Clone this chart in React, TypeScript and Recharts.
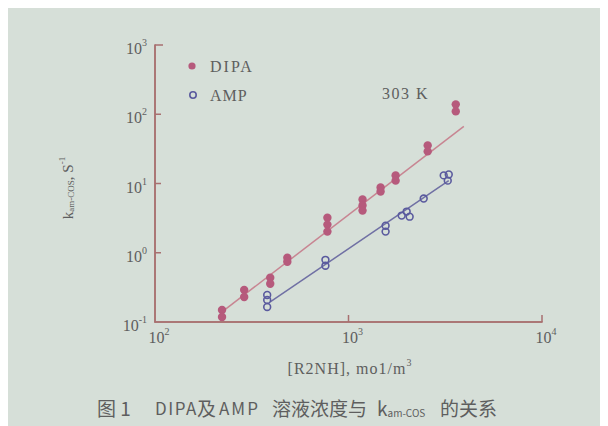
import React from "react";
import { ScatterChart, Scatter, XAxis, YAxis } from "recharts";

// [R2NH], mol/m3  vs  k_am-COS, s^-1   (303 K)
const dipaConc = [222, 222, 289, 289, 394, 394, 483, 483, 778, 778, 778, 1182, 1182, 1182, 1465, 1465, 1752, 1752, 2566, 2566, 3584, 3584];
const dipaK = [0.149, 0.118, 0.291, 0.23, 0.435, 0.356, 0.847, 0.741, 3.21, 2.55, 2.02, 5.86, 4.8, 4.06, 8.75, 7.66, 13.1, 11.0, 35.5, 29.1, 139, 110];

const ampConc = [380, 380, 380, 760, 760, 1555, 1555, 1883, 1998, 2070, 2447, 3105, 3297, 3258];
const ampK = [0.246, 0.208, 0.165, 0.79, 0.649, 2.46, 2.02, 3.44, 3.93, 3.32, 6.06, 13.1, 13.5, 11.0];

// fitted lines (end points)
const dipaFitConc = [222, 3945];
const dipaFitK = [0.14, 67];
const ampFitConc = [394, 3297];
const ampFitK = [0.195, 11.0];

const xTicks = [100, 1000, 10000];
const yTicks = [0.1, 1, 10, 100, 1000];
const tickExp: Record<number, string> = { 0.1: "-1", 1: "0", 10: "1", 100: "2", 1000: "3", 10000: "4" };

const W = 600;
const H = 418;
const M = { top: 37, right: 66, bottom: 74, left: 107 };
const Y_W = 40;
const X_H = 30;

const BG = "#d6dfd8";
const DIPA = "#b65a7c";
const DIPA_LINE = "#c88592";
const AMP = "#5a5a9e";
const AMP_LINE = "#7070a4";
const TEXT = "#5e5e5e";

const serif = "'Liberation Serif', 'DejaVu Serif', serif";
const cjk = "'Noto Sans CJK SC', 'Noto Sans', sans-serif";

const zip = (xs: number[], ys: number[]) => xs.map((x, i) => ({ x, y: ys[i] }));

const dipaData = zip(dipaConc, dipaK);
const ampData = zip(ampConc, ampK);
const dipaFit = zip(dipaFitConc, dipaFitK);
const ampFit = zip(ampFitConc, ampFitK);

// plot box (same as the chart's offset) for the frame
const PL = M.left + Y_W;
const PT = M.top;
const PR = W - M.right;
const PB = H - M.bottom - X_H;
const lx0 = Math.log10(xTicks[0]);
const lx1 = Math.log10(xTicks[xTicks.length - 1]);
const ly0 = Math.log10(yTicks[0]);
const ly1 = Math.log10(yTicks[yTicks.length - 1]);
const fx = (v: number) => PL + ((Math.log10(v) - lx0) / (lx1 - lx0)) * (PR - PL);
const fy = (v: number) => PB - ((Math.log10(v) - ly0) / (ly1 - ly0)) * (PB - PT);

function Pow10({ x, y, exp, anchor }: { x: number; y: number; exp: string; anchor: "end" | "middle" }) {
  return (
    <text x={x} y={y} textAnchor={anchor} fill={TEXT} fontFamily={serif} fontSize={16} dominantBaseline="central">
      <tspan>10</tspan>
      <tspan dy={-6} fontSize={10}>{exp}</tspan>
    </text>
  );
}

function YTick(props: any) {
  const { x, y, payload } = props;
  return <Pow10 x={x - 8} y={y + 3} exp={tickExp[payload.value]} anchor="end" />;
}

function XTick(props: any) {
  const { x, y, payload } = props;
  return <Pow10 x={x + 4} y={y + 15} exp={tickExp[payload.value]} anchor="middle" />;
}

const dot = (p: any) => <circle cx={p.cx} cy={p.cy} r={4.2} fill={DIPA} />;
const ring = (p: any) => <circle cx={p.cx} cy={p.cy} r={3.4} fill="none" stroke={AMP} strokeWidth={1.6} />;
const none = () => <g />;

export default function App() {
  return (
    <div style={{ position: "relative", width: W, height: H, background: BG }}>
      <ScatterChart width={W} height={H} margin={M}>
        <XAxis
          dataKey="x"
          type="number"
          scale="log"
          domain={[100, 10000]}
          ticks={xTicks}
          height={X_H}
          tickSize={0}
          tickMargin={0}
          axisLine={{ stroke: "rgb(168,112,112)", strokeWidth: 1.5 }}
          tick={<XTick />}
        />
        <YAxis
          dataKey="y"
          type="number"
          scale="log"
          domain={[0.1, 1000]}
          ticks={yTicks}
          width={Y_W}
          tickSize={0}
          tickMargin={0}
          axisLine={{ stroke: "rgb(168,112,112)", strokeWidth: 1.5 }}
          tick={<YTick />}
        />
        <Scatter data={dipaFit} line={{ stroke: DIPA_LINE, strokeWidth: 1.5 }} shape={none} isAnimationActive={false} />
        <Scatter data={ampFit} line={{ stroke: AMP_LINE, strokeWidth: 1.5 }} shape={none} isAnimationActive={false} />
        <Scatter data={dipaData} shape={dot} isAnimationActive={false} />
        <Scatter data={ampData} shape={ring} isAnimationActive={false} />
      </ScatterChart>

      <svg width={W} height={H} style={{ position: "absolute", left: 0, top: 0, pointerEvents: "none" }}>
        {/* frame with inward ticks, drawn as thin filled bars */}
        <g fill="rgb(168,112,112)">
          <rect x={PL - 0.75} y={PT - 0.75} width={1.5} height={PB - PT + 1.5} />
          <rect x={PL - 0.75} y={PB - 0.75} width={PR - PL + 1.5} height={1.5} />
          {yTicks.slice(1).map((v) => (
            <rect key={v} x={PL} y={fy(v) - 0.75} width={v === 1000 ? 8 : 6} height={1.5} />
          ))}
          {xTicks.slice(1).map((v) => (
            <rect key={v} x={fx(v) - 0.75} y={PB - 7} width={1.5} height={7} />
          ))}
        </g>

        {/* legend */}
        <circle cx={184} cy={58} r={3.6} fill={DIPA} />
        <text x={202} y={58} dominantBaseline="central" fill={TEXT} fontFamily={serif} fontSize={16} letterSpacing={2}>
          DIPA
        </text>
        <circle cx={185} cy={87} r={3.2} fill="none" stroke={AMP} strokeWidth={1.6} />
        <text x={202} y={87} dominantBaseline="central" fill={TEXT} fontFamily={serif} fontSize={16} letterSpacing={1}>
          AMP
        </text>
        <text x={374} y={85} dominantBaseline="central" fill={TEXT} fontFamily={serif} fontSize={16} letterSpacing={1.5}>
          303 K
        </text>

        {/* y title */}
        <text
          transform="translate(60,180) rotate(-90)"
          textAnchor="middle"
          dominantBaseline="central"
          fill={TEXT}
          fontFamily={serif}
          fontSize={15}
        >
          <tspan>k</tspan>
          <tspan fontSize={9} dy={3}>am-COS</tspan>
          <tspan dy={-3}>, S</tspan>
          <tspan fontSize={9} dy={-6}>-1</tspan>
        </text>

        {/* x title */}
        <text x={342} y={360} textAnchor="middle" dominantBaseline="central" fill={TEXT} fontFamily={serif} fontSize={16} letterSpacing={1}>
          <tspan>[R2NH], mo1/m</tspan>
          <tspan fontSize={10} dy={-6}>3</tspan>
        </text>

        {/* caption */}
        <g fill={TEXT} fontFamily={cjk} fontSize={19}>
          <text x={89} y={399} dominantBaseline="central">图 1</text>
          <text x={147} y={399} dominantBaseline="central" fontSize={17} letterSpacing={1.5}>DIPA</text>
          <text x={189} y={399} dominantBaseline="central">及</text>
          <text x={211} y={399} dominantBaseline="central" fontSize={17} letterSpacing={2}>AMP</text>
          <text x={264} y={399} dominantBaseline="central">溶液浓度与</text>
          <text x={369} y={399} dominantBaseline="central">
            <tspan>k</tspan>
            <tspan fontSize={10} dy={5}>am-COS</tspan>
          </text>
          <text x={432} y={399} dominantBaseline="central">的关系</text>
        </g>
      </svg>
    </div>
  );
}
